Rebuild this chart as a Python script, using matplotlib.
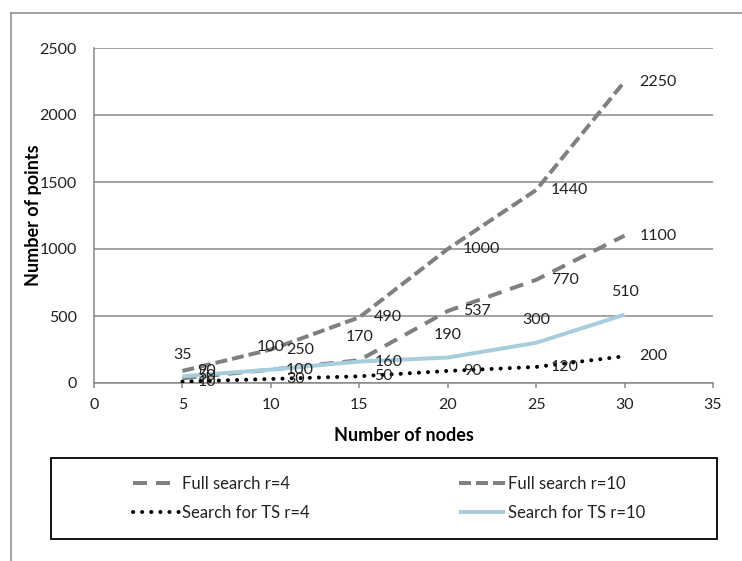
import matplotlib
matplotlib.use("Agg")
import matplotlib.pyplot as plt
from matplotlib.lines import Line2D
from matplotlib.patches import Rectangle

plt.rcParams['font.family'] = ['Lato', 'DejaVu Sans']
plt.rcParams['lines.scale_dashes'] = False

# data
nodes = [5, 10, 15, 20, 25, 30]
full_r4 = [35, 100, 170, 537, 770, 1100]
full_r10 = [90, 250, 490, 1000, 1440, 2250]
ts_r4 = [10, 30, 50, 90, 120, 200]
ts_r10 = [50, 100, 160, 190, 300, 510]
series_names = ['Full search r=4', 'Full search r=10', 'Search for TS r=4', 'Search for TS r=10']
x_ticks = [0, 5, 10, 15, 20, 25, 30, 35]
y_ticks = [0, 500, 1000, 1500, 2000, 2500]

W, H = 742, 561
GRAY = '#868686'
TEXT = '#222222'


def px(v):
    # pixels -> points at dpi 100
    return v * 0.72


fig = plt.figure(figsize=(W / 100, H / 100), dpi=100)
ax = fig.add_axes([94 / W, 1 - 383 / H, (713 - 94) / W, (383 - 48) / H])

styles = [
    dict(color='#808080', lw=px(4), dashes=(px(14), px(9)), dash_capstyle='butt'),
    dict(color='#808080', lw=px(4), dashes=(px(12), px(5)), dash_capstyle='butt'),
    dict(color='black', lw=px(4), dashes=(px(0.1), px(9)), dash_capstyle='round'),
    dict(color='#A8CEDE', lw=px(4), solid_capstyle='butt'),
]
# where each data label sits relative to its point
label_side = [
    ['up', 'up', 'up', 'right', 'right', 'right'],
    ['right'] * 6,
    ['right'] * 6,
    ['right', 'right', 'right', 'up', 'up', 'up'],
]

handles = []
for vals, name, st, sides in zip([full_r4, full_r10, ts_r4, ts_r10], series_names, styles, label_side):
    ln, = ax.plot(nodes, vals, label=name, zorder=3, **st)
    handles.append(ln)
    for xv, yv, side in zip(nodes, vals, sides):
        if side == 'right':
            ax.annotate(str(yv), (xv, yv), xytext=(px(15), 0), textcoords='offset points',
                        ha='left', va='center', fontsize=11.5, color=TEXT, zorder=5)
        else:
            ax.annotate(str(yv), (xv, yv), xytext=(0, px(23)), textcoords='offset points',
                        ha='center', va='center', fontsize=11.5, color=TEXT, zorder=5)

ax.set_xlim(0, 35)
ax.set_ylim(0, 2500)
ax.set_xticks(x_ticks)
ax.set_yticks(y_ticks)
ax.yaxis.grid(True, color=GRAY, lw=px(1.5))
ax.set_axisbelow(True)
for s in ['top', 'right']:
    ax.spines[s].set_visible(False)
for s in ['left', 'bottom']:
    ax.spines[s].set_color(GRAY)
    ax.spines[s].set_linewidth(px(1.5))
ax.tick_params(axis='x', direction='out', length=px(5), width=px(1.5), color=GRAY,
               labelsize=11.5, labelcolor=TEXT, pad=px(10))
ax.tick_params(axis='y', length=0, labelsize=11.5, labelcolor=TEXT, pad=px(17))

ax.set_xlabel('Number of nodes', fontsize=13, fontweight='bold', color='black')
ax.set_ylabel('Number of points', fontsize=13, fontweight='bold', color='black')
ax.xaxis.set_label_coords(0.5, (383 - 427) / 335)
ax.yaxis.set_label_coords((42 - 94) / 619, 0.5)

# outer chart border (cut off at right and bottom)
fig.add_artist(Line2D([11 / W, 11 / W], [0, 1 - 13 / H], color=GRAY, lw=px(1.5)))
fig.add_artist(Line2D([11 / W, 1], [1 - 13 / H, 1 - 13 / H], color=GRAY, lw=px(1.5)))

# legend box
fig.add_artist(Rectangle((51 / W, 1 - 539 / H), (717 - 51) / W, (539 - 458) / H,
                         fill=False, edgecolor='black', lw=px(1.8), transform=fig.transFigure))
fig.legend([handles[0], handles[2], handles[1], handles[3]],
           [series_names[0], series_names[2], series_names[1], series_names[3]],
           ncol=2, mode='expand', frameon=False, loc='center',
           bbox_to_anchor=(125 / W, 1 - 539 / H, (654 - 125) / W, (539 - 458) / H),
           bbox_transform=fig.transFigure, borderpad=0, fontsize=12, labelcolor=TEXT,
           handlelength=2.75, handletextpad=0.2, labelspacing=0.8)

fig.savefig('out.png', dpi=100)
